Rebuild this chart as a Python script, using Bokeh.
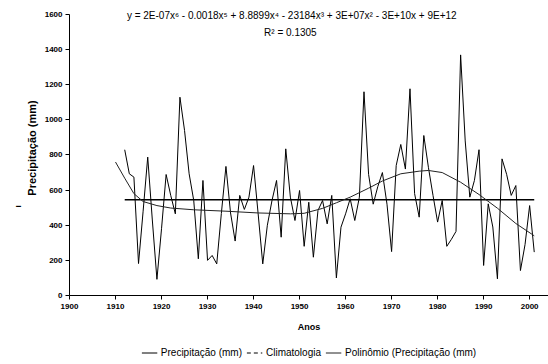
from bokeh.plotting import figure
from bokeh.layouts import column
from bokeh.models import (FixedTicker, Legend, LegendItem, Label, Range1d, ColumnDataSource, Title)
from bokeh.embed import file_html
from bokeh.resources import INLINE
import math

# ---- data ----
years = list(range(1912, 2002))
precip = [830, 693, 674, 182, 480, 788, 430, 92, 380, 689,
          570, 465, 1129, 940, 693, 541, 209, 655, 200, 228,
          180, 467, 735, 470, 310, 570, 490, 560, 740, 465,
          180, 400, 540, 655, 332, 835, 560, 427, 598, 280,
          531, 218, 484, 541, 408, 570, 100, 389, 465, 551,
          427, 560, 1160, 690, 520, 620, 700, 520, 250, 740,
          860, 720, 1177, 580, 446, 911, 730, 570, 418, 541,
          280, 320, 365, 1370, 880, 560, 655, 830, 171, 522,
          390, 95, 778, 690, 570, 626, 142, 290, 512, 247]

clim_years = [1912, 2001]
clim_vals = [545, 545]

trend_years = [1910, 1912, 1914, 1916, 1919, 1922, 1927, 1934, 1941, 1948,
               1951, 1955, 1958, 1961, 1965, 1968, 1972, 1976, 1978, 1981,
               1985, 1989, 1993, 1997, 2001]
trend_vals = [760, 668, 580, 535, 512, 498, 488, 480, 470, 465,
              468, 496, 528, 560, 611, 652, 693, 708, 712, 700,
              645, 575, 497, 410, 340]

x_ticks = list(range(1900, 2001, 10))
y_ticks = list(range(0, 1601, 200))

equation = "y = 2E-07x\u2076 - 0.0018x\u2075 + 8.8899x\u2074 - 23184x\u00b3 + 3E+07x\u00b2 - 3E+10x + 9E+12"
r2_text = "R\u00b2 = 0.1305"
legend_labels = ["Precipitação (mm)", "Climatologia", "Polinômio (Precipitação (mm)"]

FONT = "Liberation Sans"

p = figure(width=548, height=340, output_backend="svg", toolbar_location=None,
           x_range=Range1d(1900, 2004.1), y_range=Range1d(0, 1679.7),
           min_border_left=69, min_border_right=0, min_border_top=0, min_border_bottom=45)
p.outline_line_color = None
p.xgrid.grid_line_color = None
p.ygrid.grid_line_color = None

src = ColumnDataSource(dict(x=years, y=precip))
p.line("x", "y", source=src, line_color="black", line_width=1)
p.line(clim_years, clim_vals, line_color="black", line_width=1.5)
p.line(trend_years, trend_vals, line_color="#222222", line_width=1)

for ax in (p.xaxis[0], p.yaxis[0]):
    ax.axis_line_color = "black"
    ax.major_tick_line_color = "black"
    ax.minor_tick_line_color = None
    ax.major_tick_out = 4
    ax.major_tick_in = 0
    ax.major_label_text_font = FONT
    ax.major_label_text_font_style = "bold"
    ax.major_label_text_font_size = "8px"
    ax.major_label_text_color = "black"
    ax.axis_label_text_font = FONT
    ax.axis_label_text_font_style = "bold"
    ax.axis_label_text_color = "black"

p.xaxis.ticker = FixedTicker(ticks=x_ticks)
p.yaxis.ticker = FixedTicker(ticks=y_ticks)
p.yaxis.bounds = (0, 1600)
p.xaxis.major_label_standoff = 4
p.yaxis.major_label_standoff = 3
p.xaxis.axis_label = "Anos"
p.xaxis.axis_label_text_font_size = "9px"
p.xaxis.axis_label_standoff = 10
p.yaxis.axis_label = "Precipitação (mm)"
p.yaxis.axis_label_text_font_size = "11px"
p.yaxis.axis_label_standoff = 4

p.add_layout(Label(x=1948.3, y=1594, text=equation, text_align="center", text_baseline="middle",
                   text_font=FONT, text_font_size="10px", text_color="black"))
p.add_layout(Label(x=1948.0, y=1498, text=r2_text, text_align="center", text_baseline="middle",
                   text_font=FONT, text_font_size="10px", text_color="black"))

stray = Title(text="I", align="left", offset=88, text_font=FONT, text_font_size="8px",
              text_font_style="bold", text_color="black", standoff=0)
p.add_layout(stray, "left")

# legend strip below the chart
q = figure(width=548, height=24, output_backend="svg", toolbar_location=None,
           x_range=Range1d(0, 1), y_range=Range1d(0, 1),
           min_border=0, x_axis_location=None, y_axis_location=None)
q.outline_line_color = None
q.xgrid.grid_line_color = None
q.ygrid.grid_line_color = None
l1 = q.line([math.nan], [math.nan], line_color="black", line_width=1)
l2 = q.line([math.nan], [math.nan], line_color="black", line_width=1, line_dash="4 3")
l3 = q.line([math.nan], [math.nan], line_color="#222222", line_width=1)

legend = Legend(items=[
    LegendItem(label=legend_labels[0], renderers=[l1]),
    LegendItem(label=legend_labels[1], renderers=[l2]),
    LegendItem(label=legend_labels[2], renderers=[l3]),
], orientation="horizontal", location="center")
legend.border_line_color = None
legend.background_fill_alpha = 0
legend.label_text_font = FONT
legend.label_text_font_size = "10px"
legend.label_text_color = "black"
legend.glyph_width = 16
legend.glyph_height = 10
legend.label_standoff = 4
legend.spacing = 4
legend.padding = 2
legend.margin = 0
legend.label_height = 10
q.add_layout(legend, "center")

layout = column(p, q, spacing=0)
open("out.html", "w").write(file_html(layout, INLINE))
